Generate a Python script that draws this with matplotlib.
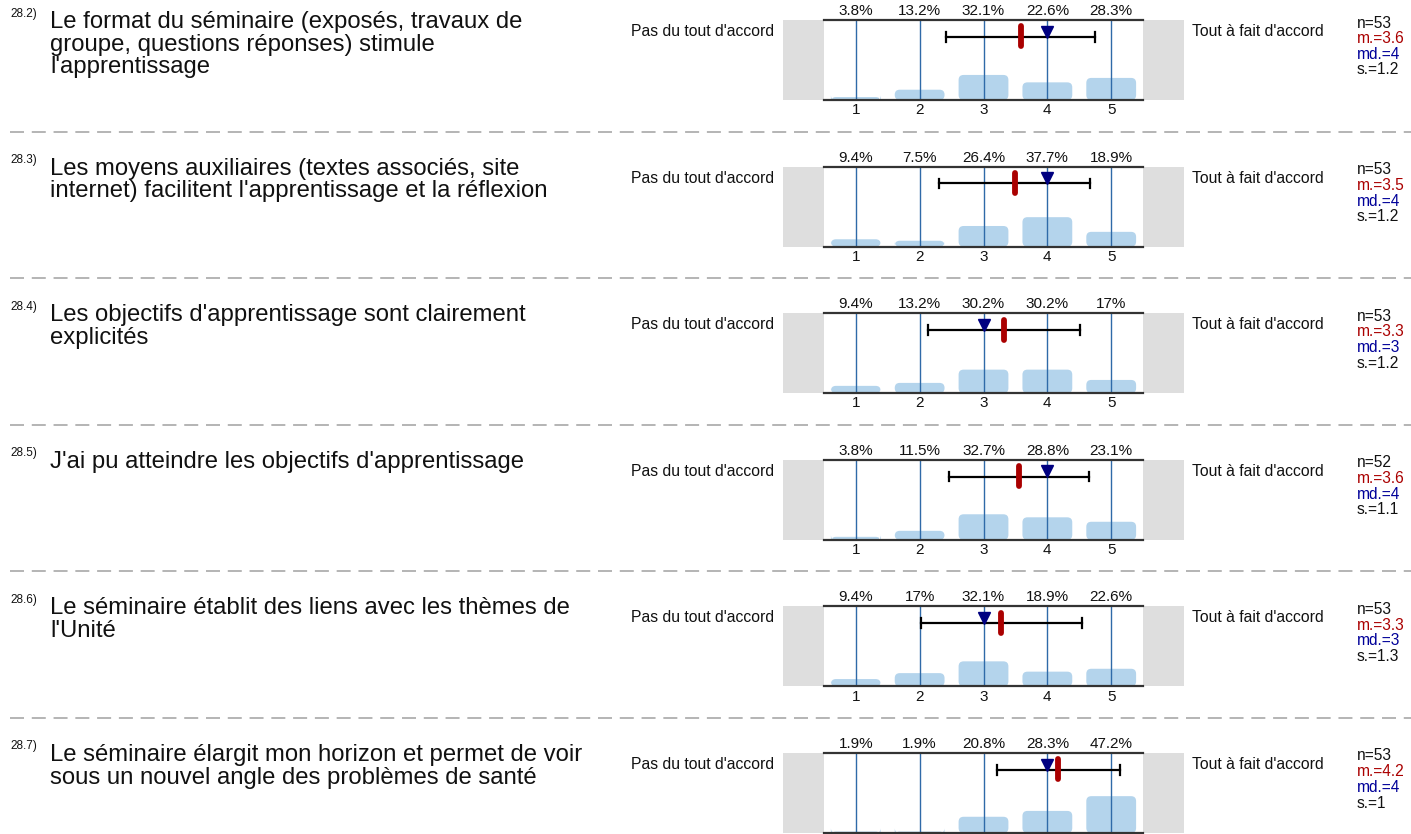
import matplotlib
matplotlib.use("Agg")
import matplotlib.pyplot as plt
from matplotlib.patches import FancyBboxPatch, Rectangle
from matplotlib.lines import Line2D
import matplotlib.transforms as mtransforms

plt.rcParams["font.family"] = ["Liberation Sans", "DejaVu Sans"]

# ---- survey data -------------------------------------------------------
item_ids = ["28.2)", "28.3)", "28.4)", "28.5)", "28.6)", "28.7)"]
questions = [
    "Le format du séminaire (exposés, travaux de\ngroupe, questions réponses) stimule\nl'apprentissage",
    "Les moyens auxiliaires (textes associés, site\ninternet) facilitent l'apprentissage et la réflexion",
    "Les objectifs d'apprentissage sont clairement\nexplicités",
    "J'ai pu atteindre les objectifs d'apprentissage",
    "Le séminaire établit des liens avec les thèmes de\nl'Unité",
    "Le séminaire élargit mon horizon et permet de voir\nsous un nouvel angle des problèmes de santé",
]
scale_points = [1, 2, 3, 4, 5]
pct_q2 = [3.8, 13.2, 32.1, 22.6, 28.3]
pct_q3 = [9.4, 7.5, 26.4, 37.7, 18.9]
pct_q4 = [9.4, 13.2, 30.2, 30.2, 17.0]
pct_q5 = [3.8, 11.5, 32.7, 28.8, 23.1]
pct_q6 = [9.4, 17.0, 32.1, 18.9, 22.6]
pct_q7 = [1.9, 1.9, 20.8, 28.3, 47.2]
percentages = [pct_q2, pct_q3, pct_q4, pct_q5, pct_q6, pct_q7]
n_resp = [53, 53, 53, 52, 53, 53]
means = [3.58, 3.49, 3.32, 3.56, 3.28, 4.17]
medians = [4, 4, 3, 4, 3, 4]
std_devs = [1.16, 1.18, 1.19, 1.10, 1.26, 0.96]
left_label = "Pas du tout d'accord"
right_label = "Tout à fait d'accord"

# ---- layout (pixels) -----------------------------------------------------
W, H = 1411, 834
fig = plt.figure(figsize=(W / 100, H / 100), dpi=100)

def fx(px):
    return px / W

def fy(py):
    return 1 - py / H

bar_color = "#b4d4ec"
grid_color = "#2f6aa8"
mean_color = "#aa0000"
median_color = "#000080"
side_gray = "#dedede"
text_color = "#111111"

ax_left, ax_right = 783, 1184
panel_h = 80
step = 146.6
first_top = 20
x_lo, x_hi = -0.14, 6.14
y_hi = 102.5
# data units per pixel, used to keep the bar corners circular
x_per_px = (x_hi - x_lo) / (ax_right - ax_left)
y_per_px = y_hi / panel_h

def fmt(v):
    return "%g" % round(v, 1)

for i in range(len(questions)):
    top = first_top + step * i
    bottom = top + panel_h
    ax = fig.add_axes([fx(ax_left), fy(bottom), fx(ax_right - ax_left), panel_h / H])
    ax.set_xlim(x_lo, x_hi)
    ax.set_ylim(0, y_hi)
    ax.axis("off")
    bt = mtransforms.blended_transform_factory(ax.transData, ax.transAxes)

    # gray side blocks
    ax.add_patch(Rectangle((x_lo, 0), 0.5 - x_lo, y_hi, color=side_gray, lw=0, zorder=0))
    ax.add_patch(Rectangle((5.5, 0), x_hi - 5.5, y_hi, color=side_gray, lw=0, zorder=0))

    # rounded bars
    for x, p in zip(scale_points, percentages[i]):
        ax.add_patch(FancyBboxPatch((x - 0.39, 0), 0.78, p,
                                    boxstyle="round,pad=0,rounding_size=%f" % (5 * x_per_px),
                                    mutation_aspect=y_per_px / x_per_px,
                                    fc=bar_color, ec="none", zorder=1))
    # vertical grid lines at scale points
    for x in scale_points:
        ax.plot([x, x], [0, y_hi], color=grid_color, lw=1.0, zorder=2)
    # top and bottom rules
    ax.plot([0.5, 5.5], [y_hi, y_hi], color="#333333", lw=1.6, zorder=3, clip_on=False)
    ax.plot([0.5, 5.5], [0, 0], color="#333333", lw=1.6, zorder=3, clip_on=False)

    # percentage labels and tick labels (tick labels only where the page has room)
    for x, p in zip(scale_points, percentages[i]):
        ax.text(x, 1.025, "%g%%" % p, transform=bt, ha="center", va="bottom",
                fontsize=11, color=text_color)
        if bottom + 16 < H:
            ax.text(x, -0.04, str(x), transform=bt, ha="center", va="top",
                    fontsize=11, color=text_color)

    # standard deviation range, mean and median
    m, s = means[i], std_devs[i]
    ax.plot([m - s, m + s], [0.79, 0.79], color="black", lw=1.6, transform=bt, zorder=4)
    for e in (m - s, m + s):
        ax.plot([e, e], [0.73, 0.85], color="black", lw=1.6, transform=bt, zorder=4)
    ax.plot([m, m], [0.67, 0.92], color=mean_color, lw=4.2, solid_capstyle="round",
            transform=bt, zorder=6)
    ax.plot([medians[i]], [0.855], marker="v", color=median_color, markersize=8.5,
            transform=bt, zorder=5, lw=0)

    # scale end labels
    fig.text(fx(774), fy(top + 11.5), left_label, ha="right", va="center", fontsize=11.3, color=text_color)
    fig.text(fx(1192), fy(top + 11.5), right_label, ha="left", va="center", fontsize=11.3, color=text_color)

    # summary statistics
    sx = fx(1357)
    fig.text(sx, fy(top + 3), "n=%d" % n_resp[i], ha="left", va="center", fontsize=11.2, color=text_color)
    fig.text(sx, fy(top + 18.7), "m.=" + fmt(m), ha="left", va="center", fontsize=11.2, color=mean_color)
    fig.text(sx, fy(top + 34.4), "md.=%d" % medians[i], ha="left", va="center", fontsize=11.2, color="#000099")
    fig.text(sx, fy(top + 50), "s.=" + fmt(s), ha="left", va="center", fontsize=11.2, color=text_color)

    # question text
    fig.text(fx(10), fy(top - 12.5), item_ids[i], ha="left", va="top", fontsize=8.5, color=text_color)
    fig.text(fx(50), fy(top - 9), questions[i], ha="left", va="top", fontsize=17.2,
             color=text_color, linespacing=1.035)

    # dashed separator
    if i < len(questions) - 1:
        sep_y = fy(bottom + 31.5)
        fig.add_artist(Line2D([fx(10), 1.0], [sep_y, sep_y], color="#b4b4b4", lw=1.4,
                              dashes=(7.2, 4.0)))

fig.savefig("out.png", dpi=100)
